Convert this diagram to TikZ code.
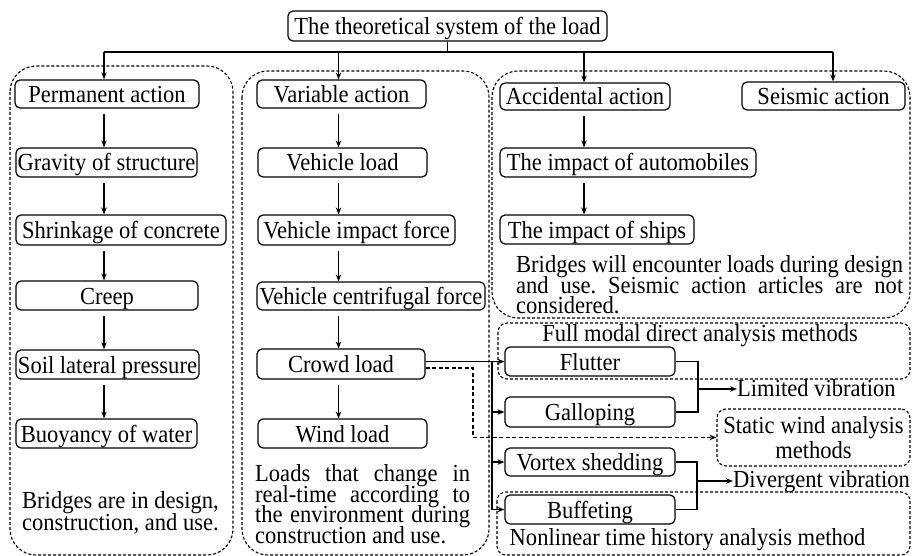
\documentclass[tikz,border=0pt]{standalone}
\usepackage{fontspec}
\setmainfont{Liberation Serif}[FakeStretch=0.92]
\usetikzlibrary{arrows.meta,calc}
\begin{document}
\lineskiplimit=-100pt
\frenchspacing
\begin{tikzpicture}[x=1pt,y=-1pt,
 tx/.style={font=\fontsize{24.5pt}{27pt}\selectfont\frenchspacing},
 box/.style={tx,draw,line width=1.2pt,rounded corners=5pt,inner xsep=1pt,inner ysep=0pt,text height=19pt,text depth=2pt,align=center},
 conn/.style={line width=1.2pt},
 arr/.style={conn,-{Stealth[length=7pt,width=5.5pt]}},
 dframe/.style={line width=1.1pt,dash pattern=on 3pt off 2pt,rounded corners=#1},
 dconn/.style={line width=1.2pt,dash pattern=on 4pt off 2.5pt,-{Stealth[length=7pt,width=5.5pt]}},
 ]
\useasboundingbox (0,0) rectangle (912,556);
% group frames
\draw[dframe=26pt] (10,66) rectangle (233,555);
\draw[dframe=26pt] (242,71) rectangle (489,555);
\draw[dframe=26pt] (492,71) rectangle (910,318);
\draw[dframe=9pt] (498,323) rectangle (910,379);
\draw[dframe=9pt] (497,492) rectangle (910,555);
\node[tx,draw,dframe=9pt,minimum width=193pt,minimum height=57pt,inner sep=0pt,align=center,font=\fontsize{24.5pt}{24.5pt}\selectfont] (static) at (813.5,437.5) {Static wind analysis\\methods};
% boxes
\node[box,minimum width=319pt,minimum height=30pt] (top) at (447.5,26) {The theoretical system of the load};
\node[box,minimum width=184pt,minimum height=28pt] (perm) at (107,94) {Permanent action};
\node[box,minimum width=181pt,minimum height=29pt] (grav) at (106.5,162.5) {Gravity of structure};
\node[box,minimum width=210pt,minimum height=30pt] (shrink) at (121,230) {Shrinkage of concrete};
\node[box,minimum width=182pt,minimum height=29pt] (creep) at (107,295.5) {Creep};
\node[box,minimum width=183pt,minimum height=29pt] (soil) at (107.5,364.5) {Soil lateral pressure};
\node[box,minimum width=181pt,minimum height=29pt] (buoy) at (106.5,433.5) {Buoyancy of water};
\node[box,minimum width=169pt,minimum height=28pt] (var) at (341.5,94) {Variable action};
\node[box,minimum width=169pt,minimum height=29pt] (vload) at (342.5,162.5) {Vehicle load};
\node[box,minimum width=197pt,minimum height=30pt] (vimp) at (356.5,230) {Vehicle impact force};
\node[box,minimum width=228pt,minimum height=28pt] (vcent) at (371,296) {Vehicle centrifugal force};
\node[box,minimum width=168pt,minimum height=30pt] (crowd) at (341,364) {Crowd load};
\node[box,minimum width=169pt,minimum height=29pt] (wind) at (342.5,433.5) {Wind load};
\node[box,minimum width=170pt,minimum height=27pt] (acc) at (585,96.5) {Accidental action};
\node[box,minimum width=163pt,minimum height=28pt] (seis) at (823.5,96) {Seismic action};
\node[box,minimum width=256pt,minimum height=29pt] (auto) at (628,162.5) {The impact of automobiles};
\node[box,minimum width=194pt,minimum height=29pt] (ships) at (597,229.5) {The impact of ships};
\node[box,minimum width=170pt,minimum height=29pt] (flutter) at (590,361.5) {Flutter};
\node[box,minimum width=170pt,minimum height=30pt] (gallop) at (590,412) {Galloping};
\node[box,minimum width=170pt,minimum height=28pt] (vortex) at (590,462) {Vortex shedding};
\node[box,minimum width=170pt,minimum height=29pt] (buff) at (590,509.5) {Buffeting};
% texts
\node[tx,anchor=north west,inner sep=0pt,align=left,font=\fontsize{24.5pt}{21.7pt}\selectfont] (t1) at (22,491.3) {Bridges are in design,\\construction, and use.};
\node[tx,anchor=north west,inner sep=0pt,align=left,font=\fontsize{24.5pt}{20.7pt}\selectfont] (t2) at (255,464.3) {\makebox[215pt][s]{Loads that change in}\\\makebox[215pt][s]{real-time according to}\\\makebox[215pt][s]{the environment during}\\construction and use.};
\node[tx,anchor=north west,inner sep=0pt,align=left,font=\fontsize{24.5pt}{20.5pt}\selectfont] (t3) at (516,255.3) {\makebox[387pt][s]{Bridges will encounter loads during design}\\\makebox[387pt][s]{and use. Seismic action articles are not}\\considered.};
\node[tx,anchor=base,inner sep=0pt] (fm) at (700,341) {Full modal direct analysis methods};
\node[tx,anchor=base,inner sep=0pt] (nl) at (687.5,545) {Nonlinear time history analysis method};
\node[tx,anchor=base west,inner sep=0pt] (lim) at (737,396.5) {Limited vibration};
\node[tx,anchor=base west,inner sep=0pt] (div) at (733,487.5) {Divergent vibration};
% top connectors
\coordinate (c1) at (104,52);
\coordinate (c2) at (338.5,52);
\coordinate (c3) at (584,52);
\coordinate (c4) at (833,52);
\draw[conn] (top.south) -- (top.south |- c1);
\draw[conn] (c1) -- (c4);
\draw[arr] (c1) -- (c1 |- perm.north);
\draw[arr] (c2) -- (c2 |- var.north);
\draw[arr] (c3) -- (c3 |- acc.north);
\draw[arr] (c4) -- (c4 |- seis.north);
% column arrows
\foreach \a/\b in {perm/grav,grav/shrink,shrink/creep,creep/soil,soil/buoy}
  \draw[arr,shorten <=5pt] (\a.south -| c1) -- (\b.north -| c1);
\foreach \a/\b in {var/vload,vload/vimp,vimp/vcent,vcent/crowd,crowd/wind}
  \draw[arr,shorten <=5pt] (\a.south -| c2) -- (\b.north -| c2);
\foreach \a/\b in {acc/auto,auto/ships}
  \draw[arr,shorten <=5pt] (\a.south -| c3) -- (\b.north -| c3);
% crowd load connectors
\coordinate (tk) at (492,0);
\draw[arr] (flutter.west -| crowd.east) -- (flutter.west);
\draw[conn] (tk |- flutter.west) -- (tk |- buff.west);
\draw[arr] (tk |- gallop.west) -- (gallop.west);
\draw[arr] (tk |- vortex.west) -- (vortex.west);
\draw[arr] (tk |- buff.west) -- (buff.west);
\coordinate (dk) at (473,437.5);
\draw[dconn] ($(crowd.east)+(0,4)$) -| (dk) -- (static.west);
% vibration joins
\coordinate (lj) at (698,389);
\draw[conn] (flutter.east) -| (lj) |- (gallop.east);
\draw[arr] (lj) -- (lj -| lim.west);
\coordinate (dj) at (697,481);
\draw[conn] (vortex.east) -| (dj) |- (buff.east);
\draw[arr] (dj) -- (dj -| div.west);
\end{tikzpicture}
\end{document}
